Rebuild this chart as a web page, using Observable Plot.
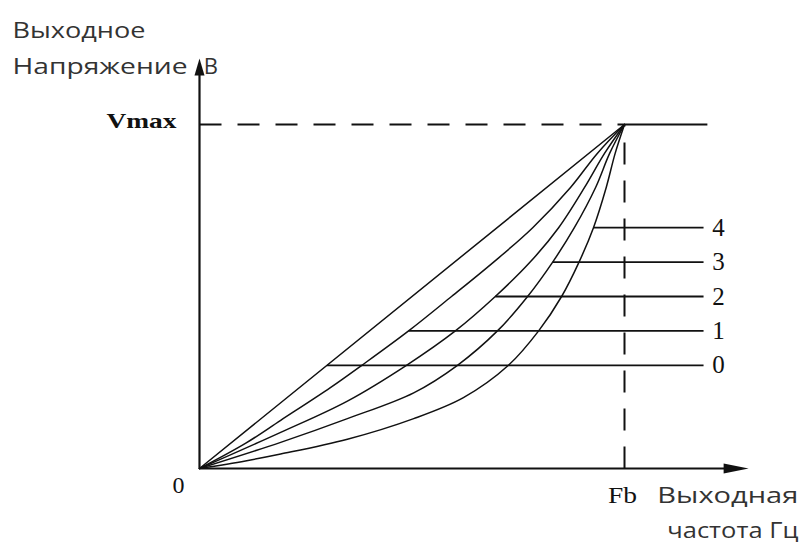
<!DOCTYPE html>
<html><head><meta charset="utf-8">
<script src="https://cdn.jsdelivr.net/npm/d3@7"></script>
<script src="https://cdn.jsdelivr.net/npm/@observablehq/plot@0.6"></script>
<style>body{margin:0;background:#fff}</style>
</head><body><div id="chart"></div>
<script>
// Curves: output voltage (fraction of Vmax) vs output frequency (fraction of Fb)
const curveNames = ["0", "1", "2", "3", "4"];
const curve0X = [0, 1];
const curve0Y = [0, 1];
const curve1X = [0, 0.108, 0.191, 0.308, 0.382, 0.492, 0.593, 0.692, 0.784, 0.873, 0.936, 1];
const curve1Y = [0, 0.073, 0.140, 0.235, 0.3, 0.4, 0.5, 0.6, 0.7, 0.817, 0.916, 1];
const curve2X = [0, 0.191, 0.348, 0.487, 0.602, 0.696, 0.778, 0.845, 0.906, 0.953, 1];
const curve2Y = [0, 0.105, 0.196, 0.3, 0.4, 0.5, 0.6, 0.7, 0.817, 0.916, 1];
const curve3X = [0, 0.191, 0.348, 0.504, 0.607, 0.701, 0.772, 0.831, 0.882, 0.932, 0.965, 1];
const curve3Y = [0, 0.076, 0.145, 0.22, 0.3, 0.4, 0.5, 0.6, 0.7, 0.817, 0.916, 1];
const curve4X = [0, 0.108, 0.191, 0.348, 0.504, 0.621, 0.727, 0.798, 0.852, 0.893, 0.927, 0.957, 0.978, 1];
const curve4Y = [0, 0.022, 0.042, 0.085, 0.145, 0.206, 0.3, 0.4, 0.5, 0.6, 0.7, 0.817, 0.916, 1];

// leader lines to the curve numbers
const leaderLevels = [0.3, 0.4, 0.5, 0.6, 0.7];
const leaderStart = [0.3, 0.492, 0.696, 0.831, 0.927];
const leaderEnd = 1.186;
const leaderLabelX = 1.221;

// axis extents / labels
const xAxisEnd = 1.292;
const yAxisEnd = 1.192;
const vmaxLabel = "Vmax";
const fbLabel = "Fb";
const originLabel = "0";
const yTitle = ["Выходное", "Напряжение"];
const yUnit = "B";
const xTitle = ["Выходная", "частота Гц"];

const xs = [curve0X, curve1X, curve2X, curve3X, curve4X];
const ys = [curve0Y, curve1Y, curve2Y, curve3Y, curve4Y];
const curveRows = curveNames.flatMap((k, i) => xs[i].map((x, j) => ({k, x, y: ys[i][j]})));
const leaders = curveNames.map((k, i) => ({k, x1: leaderStart[i], x2: leaderEnd, y: leaderLevels[i], lx: leaderLabelX}));

const arrowUp = {draw(ctx, size) { ctx.moveTo(0, 0); ctx.lineTo(-5, 17); ctx.lineTo(5, 17); ctx.closePath(); }};
const arrowRight = {draw(ctx, size) { ctx.moveTo(0, 0); ctx.lineTo(-25, -5); ctx.lineTo(-25, 5); ctx.closePath(); }};

const ink = "#111";
const serif = "Liberation Serif";
const sans = "Open Sans";

const chart = Plot.plot({
  width: 800, height: 544,
  margin: 0,
  x: {domain: [0, 1], range: [199, 624], axis: null},
  y: {domain: [0, 1], range: [468, 124], axis: null},
  style: {background: "#fff"},
  marks: [
    // dashed Vmax and Fb guides
    Plot.link([{x1: 0, x2: 1, y: 1}], {x1: "x1", x2: "x2", y1: "y", y2: "y", stroke: ink, strokeWidth: 2, strokeDasharray: "22 16"}),
    Plot.link([{x1: 1, x2: 1.195, y: 1}], {x1: "x1", x2: "x2", y1: "y", y2: "y", stroke: ink, strokeWidth: 2}),
    Plot.link([{x: 1, y1: 0, y2: 1}], {x1: "x", x2: "x", y1: "y1", y2: "y2", stroke: ink, strokeWidth: 2, strokeDasharray: "22 16"}),
    // leader lines
    Plot.link(leaders, {x1: "x1", x2: "x2", y1: "y", y2: "y", stroke: ink, strokeWidth: 1.8}),
    // curves
    Plot.line(curveRows, {x: "x", y: "y", z: "k", curve: "catmull-rom", stroke: ink, strokeWidth: 1.5}),
    // axes
    Plot.link([{x1: 0, x2: xAxisEnd - 0.03, y: 0}], {x1: "x1", x2: "x2", y1: "y", y2: "y", stroke: ink, strokeWidth: 2.2}),
    Plot.link([{x: 0, y1: 0, y2: yAxisEnd - 0.03}], {x1: "x", x2: "x", y1: "y1", y2: "y2", stroke: ink, strokeWidth: 2.2}),
    Plot.dot([{x: xAxisEnd, y: 0}], {x: "x", y: "y", symbol: arrowRight, fill: ink, stroke: "none", r: 6}),
    Plot.dot([{x: 0, y: yAxisEnd}], {x: "x", y: "y", symbol: arrowUp, fill: ink, stroke: "none", r: 6}),
    // curve numbers
    Plot.text(leaders, {x: "lx", y: "y", text: "k", fontFamily: serif, fontSize: 25, fill: ink, textAnchor: "middle"}),
    // axis value labels
    Plot.text([{x: 0, y: 1}], {x: "x", y: "y", text: () => vmaxLabel, fontFamily: serif, fontSize: 22, fontWeight: "bold", fill: ink, textAnchor: "end", dx: -23, dy: -4}),
    Plot.text([{x: 0, y: 0}], {x: "x", y: "y", text: () => originLabel, fontFamily: serif, fontSize: 24, fill: ink, textAnchor: "middle", dx: -21, dy: 17}),
    Plot.text([{x: 1, y: 0}], {x: "x", y: "y", text: () => fbLabel, fontFamily: serif, fontSize: 24, fill: ink, textAnchor: "middle", dx: -2, dy: 27}),
    // titles
    Plot.text([{x: -0.44, y: 1.273}], {x: "x", y: "y", text: () => yTitle[0], fontFamily: sans, fontSize: 22, fill: "#333", textAnchor: "start"}),
    Plot.text([{x: -0.44, y: 1.166}], {x: "x", y: "y", text: () => yTitle[1], fontFamily: sans, fontSize: 22, fill: "#333", textAnchor: "start"}),
    Plot.text([{x: 0.01, y: 1.166}], {x: "x", y: "y", text: () => yUnit, fontFamily: sans, fontSize: 22, fill: "#333", textAnchor: "start"}),
    Plot.text([{x: 1.409, y: 0}], {x: "x", y: "y", text: () => xTitle[0], fontFamily: sans, fontSize: 22, fill: "#333", textAnchor: "end", dy: 27}),
    Plot.text([{x: 1.409, y: 0}], {x: "x", y: "y", text: () => xTitle[1], fontFamily: sans, fontSize: 22, fill: "#333", textAnchor: "end", dy: 62})
  ]
});
document.getElementById("chart").appendChild(chart);

// stretch wide text to the reference's proportions
const widths = {"Выходное": 133, "Напряжение": 175, "Выходная": 141, "частота Гц": 131, "Vmax": 70, "Fb": 29};
d3.select(chart).selectAll("text").each(function() {
  const t = this.textContent;
  if (widths[t]) d3.select(this).attr("textLength", widths[t]).attr("lengthAdjust", "spacingAndGlyphs");
});
</script>
</body></html>
